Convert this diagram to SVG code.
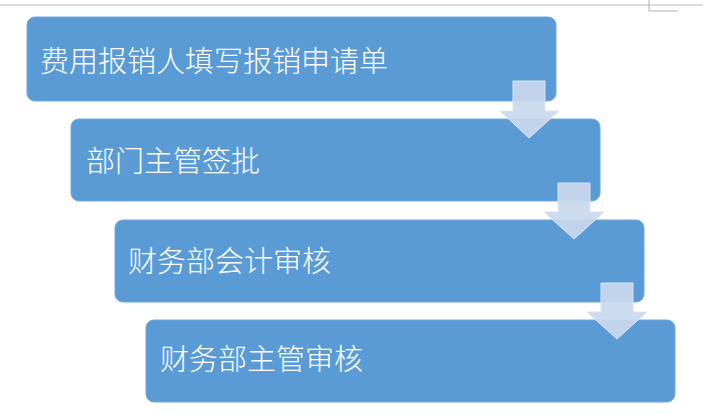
<svg xmlns="http://www.w3.org/2000/svg" width="703" height="413" viewBox="0 0 703 413">
<style>
.box{fill:#5b9bd5;stroke:#6fa8dc;stroke-width:1}
.t{fill:#fff;font-family:"Noto Sans CJK SC","Liberation Sans",sans-serif;font-size:29px;font-weight:300}
.arr{fill:#c9d8ee;fill-opacity:0.93;stroke:#dbe5f3;stroke-width:1}
</style>
<rect x="0" y="0" width="703" height="413" fill="#fff"/>
<line x1="0" y1="5" x2="703" y2="5" stroke="#dcdcdc" stroke-width="2"/>
<polyline points="649,0 649,11 678,11" fill="none" stroke="#b0b0b0" stroke-width="1"/>
<g id="n1"><rect class="box" x="27" y="17" width="529" height="84" rx="8"/><text class="t" x="40" y="72">费用报销人填写报销申请单</text></g>
<g id="n2"><rect class="box" x="71" y="119" width="529" height="82" rx="8"/><text class="t" x="86" y="172">部门主管签批</text></g>
<g id="n3"><rect class="box" x="115" y="220" width="529" height="82" rx="8"/><text class="t" x="128" y="272">财务部会计审核</text></g>
<g id="n4"><rect class="box" x="146" y="320" width="529" height="82" rx="8"/><text class="t" x="160" y="370">财务部主管审核</text></g>
<g id="connectors">
<path class="arr" d="M513,81 H545 V111 H559 L529,138 L500,111 H513 Z"/>
<path class="arr" d="M558,183 H590 V212 H604 L574,239 L544,212 H558 Z"/>
<path class="arr" d="M601,283 H633 V312 H647 L617,339 L587,312 H601 Z"/>
</g>
</svg>
